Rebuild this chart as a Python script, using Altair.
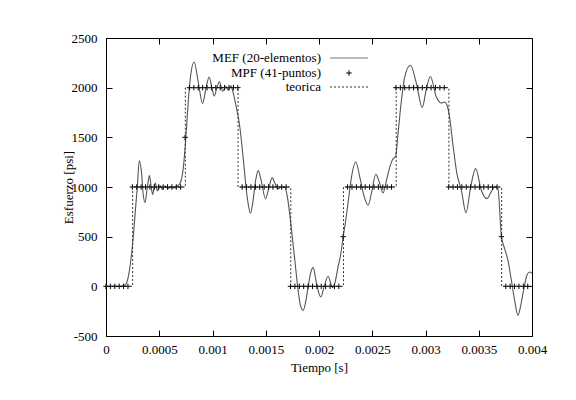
import altair as alt
import pandas as pd

# ---------------- data ----------------
# MEF (20-elementos) curve: time [s] and stress [psi]
MEF_T = [0.0, 0.000131, 0.000178, 0.000206, 0.000235, 0.000256, 0.000277, 0.000294,
         0.000312, 0.000333, 0.000347, 0.000366, 0.000387, 0.000408, 0.000422, 0.000438,
         0.000462, 0.000483, 0.000507, 0.000530, 0.000553, 0.000582, 0.000610, 0.000638,
         0.000666, 0.000694, 0.000725, 0.000750, 0.000772, 0.000795, 0.000828, 0.000866,
         0.000907, 0.000938, 0.000969, 0.000994, 0.001016, 0.001041, 0.001065, 0.001095,
         0.001126, 0.001149, 0.001173, 0.001194, 0.001226, 0.001250, 0.001273, 0.001295,
         0.001313, 0.001335, 0.001356, 0.001379, 0.001407, 0.001429, 0.001454, 0.001498,
         0.001529, 0.001560, 0.001585, 0.001616, 0.001651, 0.001679, 0.001703, 0.001726,
         0.001745, 0.001773, 0.001804, 0.001825, 0.001851, 0.001876, 0.001898, 0.001923,
         0.001945, 0.001977, 0.002017, 0.002049, 0.002085, 0.002127, 0.002148, 0.002179,
         0.002205, 0.002226, 0.002251, 0.002280, 0.002305, 0.002345, 0.002383, 0.002420,
         0.002461, 0.002495, 0.002533, 0.002566, 0.002601, 0.002636, 0.002664, 0.002692,
         0.002720, 0.002742, 0.002774, 0.002805, 0.002858, 0.002915, 0.002969, 0.003007,
         0.003046, 0.003102, 0.003149, 0.003180, 0.003203, 0.003227, 0.003258, 0.003295,
         0.003337, 0.003380, 0.003424, 0.003471, 0.003524, 0.003577, 0.003621, 0.003649,
         0.003680, 0.003712, 0.003743, 0.003774, 0.003806, 0.003837, 0.003868, 0.003893,
         0.003915, 0.003952, 0.003977, 0.004000]
MEF_V = [0, 0, 10, 80, 280, 497, 780, 1000,
         1265, 1150, 950, 843, 990, 1115, 1020, 926,
         1040, 960, 1015, 975, 1010, 985, 1000, 990,
         1010, 1034, 1185, 1500, 1856, 2125, 2259, 2057,
         1840, 1990, 2108, 2000, 1915, 2000, 2060, 1965,
         2010, 1975, 2020, 1950, 1789, 1654, 1453, 1218,
         1017, 830, 735, 850, 1080, 1165, 1080, 883,
         990, 1094, 1040, 984, 1000, 1000, 900, 720,
         540, 262, -40, -190, -242, -150, -7, 140,
         188, 27, -107, 0, 101, -13, 30, 195,
         329, 490, 665, 899, 1100, 1252, 1100, 920,
         816, 950, 1128, 1050, 940, 1080, 1201, 1280,
         1309, 1537, 1873, 2108, 2225, 2041, 1800, 1980,
         2112, 1906, 1845, 1856, 1820, 1700, 1420, 1135,
         967, 740, 1000, 1185, 967, 883, 960, 1000,
         984, 514, 380, 264, 63, -141, -292, -200,
         -74, 111, 144, 131]

# MPF (41-puntos): values on a regular time grid
MPF_DT = 0.00004125
MPF_V = [0, 0, 0, 0, 0, 0,
         1000, 1000, 1000, 1000, 1000, 1000, 1000, 1000, 1000, 1000, 1000, 1000,
         1500,
         2000, 2000, 2000, 2000, 2000, 2000, 2000, 2000, 2000, 2000, 2000, 2000,
         1000, 1000, 1000, 1000, 1000, 1000, 1000, 1000, 1000, 1000, 1000,
         0, 0, 0, 0, 0, 0, 0, 0, 0, 0, 0, 0,
         500,
         1000, 1000, 1000, 1000, 1000, 1000, 1000, 1000, 1000, 1000, 1000,
         2000, 2000, 2000, 2000, 2000, 2000, 2000, 2000, 2000, 2000, 2000, 2000,
         1000, 1000, 1000, 1000, 1000, 1000, 1000, 1000, 1000, 1000, 1000, 1000,
         500,
         0, 0, 0, 0, 0, 0]
MPF_T = [round(k * MPF_DT, 9) for k in range(len(MPF_V))]

# teorica: step function
THEO_T = [0.0, 0.00025, 0.00025, 0.000745, 0.000745, 0.00124, 0.00124, 0.001735,
          0.001735, 0.00223, 0.00223, 0.002725, 0.002725, 0.00322, 0.00322, 0.003715,
          0.003715, 0.004]
THEO_V = [0, 0, 1000, 1000, 2000, 2000, 1000, 1000,
          0, 0, 1000, 1000, 2000, 2000, 1000, 1000,
          0, 0]

X_TICKS = [0, 0.0005, 0.001, 0.0015, 0.002, 0.0025, 0.003, 0.0035, 0.004]
Y_TICKS = [-500, 0, 500, 1000, 1500, 2000, 2500]
LEGEND = ["MEF (20-elementos)", "MPF (41-puntos)", "teorica"]

# ---------------- chart ----------------
FONT = "Liberation Serif"
W, H = 426, 298

mef = pd.DataFrame({"t": MEF_T, "v": MEF_V, "i": range(len(MEF_T))})
mpf = pd.DataFrame({"t": MPF_T, "v": MPF_V})
theo = pd.DataFrame({"t": THEO_T, "v": THEO_V, "i": range(len(THEO_T))})
one = pd.DataFrame({"a": [0]})

xscale = alt.Scale(domain=[0, 0.004], nice=False, zero=False)
yscale = alt.Scale(domain=[-500, 2500], nice=False, zero=False)

common_axis = dict(domain=False, grid=False, ticks=True, tickSize=6, offset=-6,
                   tickColor="black", tickWidth=1, labelFont=FONT, labelFontSize=13,
                   labelColor="black", titleFont=FONT, titleFontSize=13,
                   titleColor="black", titleFontWeight="normal")

x_bottom = alt.Axis(orient="bottom", values=X_TICKS, format="~g", labelPadding=7,
                    title="Tiempo [s]", titleX=W / 2, titleY=37, titleBaseline="middle",
                    labelFlush=False, **common_axis)
y_left = alt.Axis(orient="left", values=Y_TICKS, labelExpr="'' + datum.value",
                  labelPadding=9, title="Esfuerzo [psi]", titleX=-44, titleY=H / 2,
                  titleBaseline="middle", **common_axis)
x_top = alt.Axis(orient="top", values=X_TICKS, labels=False, title=None, **common_axis)
y_right = alt.Axis(orient="right", values=Y_TICKS, labels=False, title=None, **common_axis)

mef_line = alt.Chart(mef).mark_line(color="#555555", strokeWidth=1.1,
                                    interpolate="monotone").encode(
    x=alt.X("t:Q", scale=xscale, axis=x_bottom),
    y=alt.Y("v:Q", scale=yscale, axis=y_left),
    order="i:Q",
)

theo_line = alt.Chart(theo).mark_line(color="#333333", strokeWidth=1,
                                      strokeDash=[2, 2]).encode(
    x=alt.X("t:Q", scale=xscale, axis=x_top),
    y=alt.Y("v:Q", scale=yscale, axis=y_right),
    order="i:Q",
)

CROSS = "M-1,0L1,0M0,-1L0,1"
mpf_pts = alt.Chart(mpf).mark_point(shape=CROSS, size=30, filled=False,
                                    color="black", strokeWidth=1, opacity=1).encode(
    x=alt.X("t:Q", scale=xscale, axis=None),
    y=alt.Y("v:Q", scale=yscale, axis=None),
)

# gnuplot-style key (text on the left, sample on the right)
LX, SX1, SX2 = 215, 224, 262
key_rows = [20, 35, 49]
key_layers = []
for lab, yy in zip(LEGEND, key_rows):
    key_layers.append(
        alt.Chart(one).mark_text(align="right", baseline="middle", font=FONT,
                                 fontSize=13, color="black").encode(
            x=alt.value(LX), y=alt.value(yy), text=alt.value(lab)))
key_layers.append(alt.Chart(one).mark_rule(color="#777777", strokeWidth=1.1).encode(
    x=alt.value(SX1), x2=alt.value(SX2), y=alt.value(key_rows[0])))
key_layers.append(alt.Chart(one).mark_point(shape=CROSS, size=30, filled=False,
                                            color="black", strokeWidth=1, opacity=1).encode(
    x=alt.value((SX1 + SX2) / 2), y=alt.value(key_rows[1])))
key_layers.append(alt.Chart(one).mark_rule(color="#333333", strokeWidth=1,
                                           strokeDash=[2, 2]).encode(
    x=alt.value(SX1), x2=alt.value(SX2), y=alt.value(key_rows[2])))

chart = alt.layer(mef_line, mpf_pts, theo_line, *key_layers).resolve_axis(
    x="independent", y="independent"
).properties(
    width=W, height=H,
    autosize=alt.AutoSizeParams(type="none"),
    padding={"left": 98, "top": 30, "right": 36, "bottom": 54},
    background="white",
).configure_view(stroke="black", strokeWidth=1)

chart.save("out.html", embed_options={"renderer": "svg", "actions": False})
